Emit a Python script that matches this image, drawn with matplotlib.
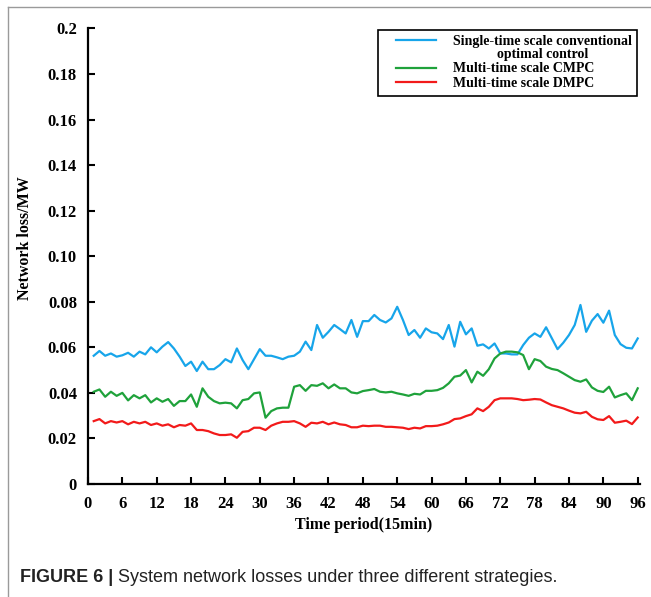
import numpy as np
import matplotlib
matplotlib.use("Agg")
import matplotlib.pyplot as plt
from matplotlib.legend_handler import HandlerLine2D
from matplotlib.lines import Line2D

# ---- data: network loss (MW) for each 15-min period of the day ----
periods = np.arange(1, 97)

conventional = [
    0.0563, 0.0584, 0.0563, 0.0573, 0.0559, 0.0565, 0.0576, 0.0559, 0.0581, 0.0569, 0.0600, 0.0578, 0.0603, 0.0623, 0.0595, 0.0559,
    0.0518, 0.0537, 0.0496, 0.0537, 0.0504, 0.0504, 0.0522, 0.0548, 0.0534, 0.0595, 0.0544, 0.0504, 0.0548, 0.0592, 0.0563, 0.0563,
    0.0556, 0.0548, 0.0559, 0.0563, 0.0581, 0.0625, 0.0588, 0.0698, 0.0642, 0.0668, 0.0698, 0.0680, 0.0661, 0.0720, 0.0646, 0.0715,
    0.0715, 0.0742, 0.0720, 0.0709, 0.0727, 0.0778, 0.0720, 0.0654, 0.0676, 0.0642, 0.0683, 0.0666, 0.0661, 0.0636, 0.0698, 0.0603,
    0.0712, 0.0657, 0.0683, 0.0607, 0.0613, 0.0595, 0.0617, 0.0573, 0.0573, 0.0569, 0.0569, 0.0610, 0.0642, 0.0661, 0.0646, 0.0688,
    0.0640, 0.0592, 0.0620, 0.0654, 0.0698, 0.0786, 0.0668, 0.0717, 0.0746, 0.0708, 0.0761, 0.0654, 0.0614, 0.0598, 0.0595, 0.0639,
]

cmpc = [
    0.0405, 0.0415, 0.0383, 0.0405, 0.0387, 0.0400, 0.0367, 0.0390, 0.0376, 0.0390, 0.0358, 0.0376, 0.0361, 0.0373, 0.0343, 0.0364,
    0.0364, 0.0393, 0.0339, 0.0420, 0.0383, 0.0364, 0.0354, 0.0357, 0.0354, 0.0332, 0.0368, 0.0373, 0.0398, 0.0402, 0.0291, 0.0320,
    0.0332, 0.0335, 0.0335, 0.0427, 0.0434, 0.0409, 0.0434, 0.0431, 0.0442, 0.0420, 0.0437, 0.0420, 0.0420, 0.0402, 0.0398, 0.0408,
    0.0412, 0.0417, 0.0405, 0.0402, 0.0405, 0.0398, 0.0393, 0.0387, 0.0396, 0.0393, 0.0409, 0.0409, 0.0412, 0.0422, 0.0442, 0.0471,
    0.0476, 0.0500, 0.0446, 0.0493, 0.0475, 0.0504, 0.0551, 0.0573, 0.0581, 0.0581, 0.0578, 0.0566, 0.0504, 0.0548, 0.0540, 0.0515,
    0.0505, 0.0500, 0.0486, 0.0471, 0.0456, 0.0449, 0.0459, 0.0424, 0.0409, 0.0404, 0.0427, 0.0380, 0.0390, 0.0398, 0.0368, 0.0420,
]

dmpc = [
    0.0276, 0.0285, 0.0266, 0.0276, 0.0270, 0.0276, 0.0262, 0.0273, 0.0266, 0.0273, 0.0259, 0.0266, 0.0256, 0.0262, 0.0249, 0.0259,
    0.0256, 0.0266, 0.0237, 0.0237, 0.0232, 0.0222, 0.0215, 0.0215, 0.0218, 0.0203, 0.0229, 0.0232, 0.0247, 0.0247, 0.0237, 0.0256,
    0.0266, 0.0273, 0.0273, 0.0276, 0.0266, 0.0251, 0.0269, 0.0266, 0.0273, 0.0262, 0.0270, 0.0262, 0.0259, 0.0249, 0.0249, 0.0256,
    0.0254, 0.0256, 0.0256, 0.0251, 0.0251, 0.0249, 0.0247, 0.0241, 0.0247, 0.0244, 0.0254, 0.0254, 0.0256, 0.0262, 0.0270, 0.0285,
    0.0288, 0.0298, 0.0306, 0.0332, 0.0320, 0.0339, 0.0368, 0.0376, 0.0376, 0.0376, 0.0373, 0.0368, 0.0370, 0.0373, 0.0371, 0.0358,
    0.0346, 0.0339, 0.0332, 0.0322, 0.0313, 0.0310, 0.0317, 0.0295, 0.0284, 0.0281, 0.0298, 0.0269, 0.0273, 0.0278, 0.0263, 0.0292,
]

series_labels = [
    "Single-time scale conventional\noptimal control",
    "Multi-time scale CMPC",
    "Multi-time scale DMPC",
]
series_colors = ["#17A5EA", "#1FA23B", "#F21A1A"]

x_ticks = list(range(0, 97, 6))
y_ticks = [0, 0.02, 0.04, 0.06, 0.08, 0.10, 0.12, 0.14, 0.16, 0.18, 0.2]
y_tick_labels = ["0", "0.02", "0.04", "0.06", "0.08", "0.10", "0.12", "0.14", "0.16", "0.18", "0.2"]

SERIF = "Liberation Serif"


class OffsetLineHandler(HandlerLine2D):
    """Legend line that starts a little right of the handle box and can be raised."""

    def __init__(self, x_skip=0.0, y_shift=0.0, **kw):
        super().__init__(**kw)
        self.x_skip = x_skip
        self.y_shift = y_shift

    def create_artists(self, legend, orig_handle, xdescent, ydescent,
                       width, height, fontsize, trans):
        arts = super().create_artists(legend, orig_handle, xdescent, ydescent,
                                      width, height, fontsize, trans)
        for a in arts:
            xd = np.asarray(a.get_xdata(), dtype=float)
            yd = np.asarray(a.get_ydata(), dtype=float)
            if xd.size >= 2:
                xd = xd.copy()
                xd[0] = xd[0] + self.x_skip
            a.set_data(xd, yd + self.y_shift)
        return arts


fig = plt.figure(figsize=(6.51, 5.97), dpi=100)
ax = fig.add_axes([88 / 651, 1 - 484 / 597, (640 - 88) / 651, (484 - 28.4) / 597])

for vals, lab, col in zip([conventional, cmpc, dmpc], series_labels, series_colors):
    ax.plot(periods, vals, color=col, lw=1.6, label=lab)

ax.set_xlim(0, 96.4)
ax.set_ylim(0, 0.2)
ax.set_xticks(x_ticks)
ax.set_xticklabels([str(v) for v in x_ticks])
ax.set_yticks(y_ticks)
ax.set_yticklabels(y_tick_labels)

for side in ("top", "right"):
    ax.spines[side].set_visible(False)
for side in ("left", "bottom"):
    ax.spines[side].set_linewidth(1.6)
    ax.spines[side].set_color("black")

ax.tick_params(axis="both", direction="in", length=5, width=1.5, color="black")
ax.tick_params(axis="x", pad=9)
ax.tick_params(axis="y", pad=8)
for lbl in ax.get_xticklabels() + ax.get_yticklabels():
    lbl.set_fontfamily(SERIF)
    lbl.set_fontweight("bold")
    lbl.set_fontsize(12)

ax.set_xlabel("Time period(15min)", fontfamily=SERIF, fontweight="bold", fontsize=11.5, labelpad=3)
ax.set_ylabel("Network loss/MW", fontfamily=SERIF, fontweight="bold", fontsize=11.5)
ax.yaxis.set_label_coords(-0.10, 0.54)

handles = [Line2D([], [], color=c, lw=1.6) for c in series_colors]
leg_fs = 10
handler_map = {
    handles[0]: OffsetLineHandler(x_skip=8.5, y_shift=6.0),
    handles[1]: OffsetLineHandler(x_skip=8.5),
    handles[2]: OffsetLineHandler(x_skip=8.5),
}
leg = ax.legend(handles, series_labels, handler_map=handler_map,
                loc="upper right", bbox_to_anchor=(0.995, 0.997),
                borderaxespad=0.0, frameon=True, fancybox=False,
                edgecolor="black", framealpha=1.0,
                prop={"family": SERIF, "weight": "bold", "size": leg_fs},
                handlelength=3.77, handletextpad=1.2, borderpad=0.4,
                labelspacing=0.12)
leg.get_frame().set_linewidth(1.2)
for t in leg.get_texts():
    t.set_multialignment("center")
    t.set_linespacing(0.95)

# thin page frame along the left and top edges
fig.add_artist(Line2D([8 / 651, 8 / 651], [0, 1 - 7 / 597], transform=fig.transFigure,
                      color="#9a9a9a", lw=1.0))
fig.add_artist(Line2D([8 / 651, 1], [1 - 7 / 597, 1 - 7 / 597], transform=fig.transFigure,
                      color="#9a9a9a", lw=1.0))

# caption: bold figure number followed by regular description
cap_y = 1 - 578 / 597
cap_fs = 13
t1 = fig.text(20 / 651, cap_y, "FIGURE 6 |", fontfamily="Liberation Sans", fontweight="bold",
              fontsize=cap_fs, color="#222222", va="center", ha="left")
fig.canvas.draw()
r = fig.canvas.get_renderer()
bb = t1.get_window_extent(renderer=r)
fig.text((bb.x1 + 5) / 651, cap_y, "System network losses under three different strategies.",
         fontfamily="Liberation Sans", fontsize=cap_fs, color="#222222", va="center", ha="left")

fig.savefig("out.png", dpi=100)
